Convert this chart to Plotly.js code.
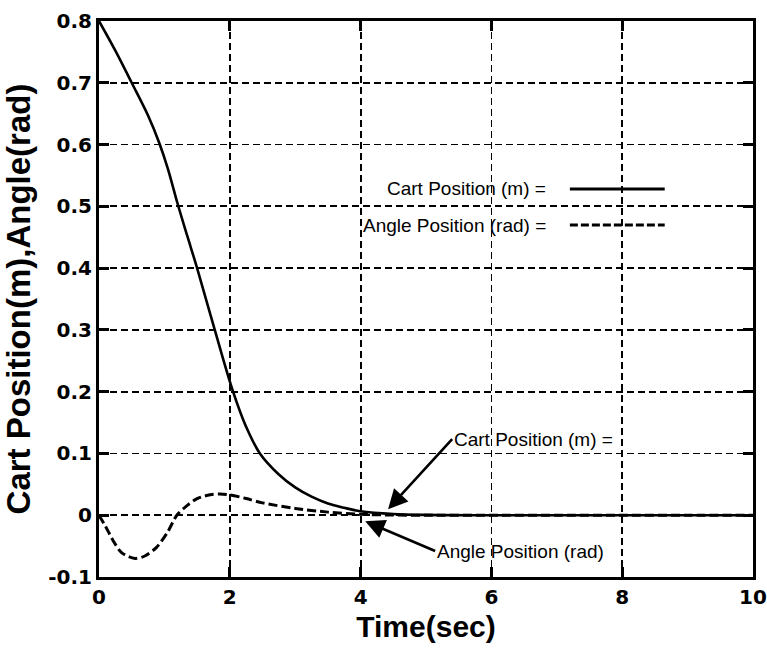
<!DOCTYPE html>
<html>
<head>
<meta charset="utf-8">
<script src="https://cdn.plot.ly/plotly-3.0.1.min.js"></script>
<style>html,body{margin:0;padding:0;background:#fff;}#chart{width:767px;height:656px;}</style>
</head>
<body>
<div id="chart"></div>
<script>
// Cart position (m) vs time (sec)
const cartTime = [0, 0.25, 0.5, 0.75, 0.92, 1.05, 1.2, 1.35, 1.5, 1.77, 2.05, 2.25, 2.46, 2.75, 3.0, 3.25, 3.5, 3.75, 4.0, 4.5, 5.0, 6.0, 7.0, 8.0, 9.0, 10.0];
const cartPos  = [0.8, 0.752, 0.70, 0.647, 0.603, 0.562, 0.505, 0.452, 0.40, 0.30, 0.20, 0.143, 0.10, 0.066, 0.045, 0.03, 0.019, 0.012, 0.0065, 0.002, 0.0005, 0, 0, 0, 0, 0];
// Angle position (rad) vs time (sec)
const angleTime = [0, 0.1, 0.21, 0.35, 0.55, 0.7, 0.88, 1.05, 1.19, 1.35, 1.5, 1.7, 1.85, 2.0, 2.25, 2.5, 3.0, 3.5, 4.0, 4.5, 5.0, 6.0, 7.0, 8.0, 9.0, 10.0];
const anglePos  = [0, -0.018, -0.040, -0.061, -0.07, -0.066, -0.052, -0.027, 0, 0.016, 0.027, 0.033, 0.0345, 0.033, 0.027, 0.02, 0.011, 0.005, 0.0015, 0.0003, 0, 0, 0, 0, 0, 0];

const xTickVals = [0, 2, 4, 6, 8, 10];
const xTickText = ["0", "2", "4", "6", "8", "10"];
const yTickVals = [-0.1, 0, 0.1, 0.2, 0.3, 0.4, 0.5, 0.6, 0.7, 0.8];
const yTickText = ["-0.1", "0", "0.1", "0.2", "0.3", "0.4", "0.5", "0.6", "0.7", "0.8"];

const seriesNames = ["Cart Position (m) =", "Angle Position (rad) ="];

const traces = [
  {x: cartTime, y: cartPos, type: 'scatter', mode: 'lines', name: seriesNames[0],
   line: {color: '#000', width: 2.6, shape: 'spline', smoothing: 1}},
  {x: angleTime, y: anglePos, type: 'scatter', mode: 'lines', name: seriesNames[1],
   line: {color: '#000', width: 3, dash: '9px,4px', shape: 'spline', smoothing: 0.8}}
];

const bold = arr => arr.map(s => '<b>' + s + '</b>');
const tickFont = {family: 'DejaVu Sans', size: 20, color: '#000'};
const annFont = {family: 'Liberation Sans, Arial', size: 19, color: '#000'};

const layout = {
  width: 767, height: 656,
  margin: {l: 99, r: 14, t: 21, b: 79},
  paper_bgcolor: '#fff', plot_bgcolor: '#fff',
  showlegend: false,
  xaxis: {
    range: [0, 10], tickvals: xTickVals, ticktext: bold(xTickText),
    showline: true, linecolor: '#000', linewidth: 3, mirror: 'ticks',
    ticks: 'inside', ticklen: 10, tickwidth: 3, tickcolor: '#000',
    showgrid: true, gridcolor: '#000', gridwidth: 1.8, griddash: '7px,4px',
    zeroline: false, tickfont: tickFont,
    title: {text: '<b>Time(sec)</b>', font: {family: 'Liberation Sans, Arial', size: 30, color: '#000'}, standoff: 8}
  },
  yaxis: {
    range: [-0.1, 0.8], tickvals: yTickVals, ticktext: bold(yTickText),
    showline: true, linecolor: '#000', linewidth: 3, mirror: 'ticks',
    ticks: 'inside', ticklen: 10, tickwidth: 3, tickcolor: '#000',
    showgrid: true, gridcolor: '#000', gridwidth: 1.8, griddash: '7px,4px',
    zeroline: false, tickfont: tickFont,
    title: {text: '<b>Cart Position(m),Angle(rad)</b>', font: {family: 'Liberation Sans, Arial', size: 33, color: '#000'}, standoff: 10}
  },
  shapes: [
    {type: 'line', xref: 'paper', yref: 'paper', x0: 0.72, x1: 0.865, y0: 0.698, y1: 0.698,
     line: {color: '#000', width: 3}},
    {type: 'line', xref: 'paper', yref: 'paper', x0: 0.72, x1: 0.865, y0: 0.633, y1: 0.633,
     line: {color: '#000', width: 3, dash: '8px,3px'}}
  ],
  annotations: [
    {xref: 'paper', yref: 'paper', x: 0.687, y: 0.698, xanchor: 'right', yanchor: 'middle',
     text: seriesNames[0], showarrow: false, font: annFont},
    {xref: 'paper', yref: 'paper', x: 0.687, y: 0.633, xanchor: 'right', yanchor: 'middle',
     text: seriesNames[1], showarrow: false, font: annFont},
    {x: 4.42, y: 0.0097, axref: 'x', ayref: 'y', ax: 5.40, ay: 0.123, xanchor: 'left', yanchor: 'middle',
     text: 'Cart Position (m) =', showarrow: true, arrowhead: 2, arrowsize: 1.5, arrowwidth: 2.6,
     arrowcolor: '#000', font: annFont, standoff: 0},
    {x: 4.07, y: -0.0097, axref: 'x', ayref: 'y', ax: 5.14, ay: -0.058, xanchor: 'left', yanchor: 'middle',
     text: 'Angle Position (rad)', showarrow: true, arrowhead: 2, arrowsize: 1.5, arrowwidth: 2.6,
     arrowcolor: '#000', font: annFont, standoff: 0}
  ]
};

Plotly.newPlot('chart', traces, layout, {displayModeBar: false, staticPlot: true});
</script>
</body>
</html>
